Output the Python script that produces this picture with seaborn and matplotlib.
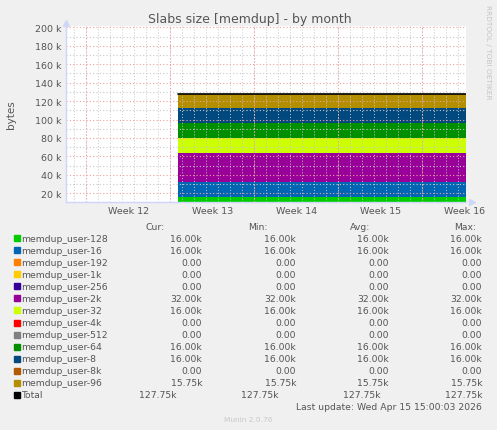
import numpy as np
import matplotlib
matplotlib.use('Agg')
import matplotlib.pyplot as plt
import seaborn as sns

# Series (stack order, bottom to top) and their values, in bytes
series = ['memdup_user-128', 'memdup_user-16', 'memdup_user-192', 'memdup_user-1k',
          'memdup_user-256', 'memdup_user-2k', 'memdup_user-32', 'memdup_user-4k',
          'memdup_user-512', 'memdup_user-64', 'memdup_user-8', 'memdup_user-8k',
          'memdup_user-96']
colors = ['#00cc00', '#0066b3', '#ff8000', '#ffcc00', '#330099', '#990099', '#ccff00',
          '#ff0000', '#808080', '#008f00', '#00487d', '#b35a00', '#b38f00']
values = [16000, 16000, 0, 0, 0, 32000, 16000, 0, 0, 16000, 16000, 0, 15750]

cur_txt = ['16.00k', '16.00k', '0.00', '0.00', '0.00', '32.00k', '16.00k', '0.00', '0.00',
           '16.00k', '16.00k', '0.00', '15.75k']
min_txt = cur_txt
avg_txt = cur_txt
max_txt = cur_txt
total_txt = '127.75k'

# time axis in days from the left edge of the graph
time = [9.36, 33.33]
week_pos = [5.2, 12.2, 19.2, 26.2, 33.2]
week_labels = ['Week 12', 'Week 13', 'Week 14', 'Week 15', 'Week 16']
week_grid = [1.7, 8.7, 15.7, 22.7, 29.7]
yticks = [20000, 40000, 60000, 80000, 100000, 120000, 140000, 160000, 180000, 200000]
ytick_labels = ['20 k', '40 k', '60 k', '80 k', '100 k', '120 k', '140 k', '160 k', '180 k', '200 k']

sns.set_style('white')
plt.rcParams['font.family'] = ['DejaVu Sans']

W, H = 497, 431
fig = plt.figure(figsize=(W / 100, H / 100), dpi=100, facecolor='#f0f0f0')
ax = fig.add_axes([66 / W, 1 - 203.3 / H, 400 / W, 176.8 / H])
ax.set_facecolor('white')

def px(x, y):
    return x / W, 1 - y / H

stack = np.array([[v, v] for v in values])
ax.stackplot(time, stack, colors=colors, linewidth=0, zorder=1)
total = stack.sum(axis=0)
sns.lineplot(x=time, y=total, color='black', linewidth=1.2, ax=ax, zorder=3)

ax.set_xlim(0, 33.33)
ax.set_ylim(10200, 202000)

# grid (drawn over the areas, rrdtool style)
dot = (0, (1, 2))
for d in np.arange(0.7, 33.4, 1.0):
    ax.axvline(d, color='#c8c8c8', lw=0.7, ls=dot, zorder=2)
for d in week_grid:
    ax.axvline(d, color='#f0a0a0', lw=0.8, ls=dot, zorder=2)
for v in range(20000, 210000, 10000):
    c = '#f0a0a0' if v % 20000 == 0 else '#c8c8c8'
    ax.axhline(v, color=c, lw=0.8, ls=dot, zorder=2)

ax.set_xticks(week_pos, week_labels)
ax.set_yticks(yticks, ytick_labels)
ax.tick_params(length=0, labelsize=6.8, colors='#555555', pad=3)
for s in ['top', 'right']:
    ax.spines[s].set_visible(False)
for s in ['left', 'bottom']:
    ax.spines[s].set_color('#cfd6f8')
    ax.spines[s].set_linewidth(1.0)
ax.plot([0], [1.015], marker='^', color='#cfd6f8', ms=5, transform=ax.transAxes, clip_on=False)
ax.plot([1.015], [0], marker='>', color='#cfd6f8', ms=5, transform=ax.transAxes, clip_on=False)

fig.text(*px(250, 19), 'Slabs size [memdup] - by month', ha='center', va='center',
         fontsize=9, color='#555555')
fig.text(*px(11, 115), 'bytes', ha='center', va='center', rotation=90,
         fontsize=7.5, color='#555555')
fig.text(*px(488, 5), 'RRDTOOL / TOBI OETIKER', ha='center', va='top', rotation=270,
         fontsize=5.3, color='#c4c4c4')

# legend table
fs = 6.7
tc = '#555555'
for x, h in [(145, 'Cur:'), (248, 'Min:'), (350, 'Avg:'), (454, 'Max:')]:
    fig.text(*px(x, 228), h, ha='left', va='center', fontsize=fs, color=tc)

cols = [(202, cur_txt), (296, min_txt), (389, avg_txt), (482, max_txt)]
for i, name in enumerate(series):
    y = 239.3 + 12.03 * i
    fig.patches.append(plt.Rectangle(px(14, y + 3), 6 / W, 6 / H, transform=fig.transFigure,
                                     color=colors[i], figure=fig))
    fig.text(*px(21, y), name, ha='left', va='center', fontsize=fs, color=tc)
    for x, col in cols:
        fig.text(*px(x, y), col[i], ha='right', va='center', fontsize=fs, color=tc)

y = 239.3 + 12.03 * len(series)
fig.patches.append(plt.Rectangle(px(14, y + 3), 6 / W, 6 / H, transform=fig.transFigure,
                                 color='black', figure=fig))
fig.text(*px(21, y), 'Total', ha='left', va='center', fontsize=fs, color=tc)
for x in [177, 279, 381, 482]:
    fig.text(*px(x, y), total_txt, ha='right', va='center', fontsize=fs, color=tc)

fig.text(*px(482, 407.7), 'Last update: Wed Apr 15 15:00:03 2026', ha='right', va='center',
         fontsize=fs, color=tc)
fig.text(*px(248, 420), 'Munin 2.0.76', ha='center', va='center', fontsize=5.3, color='#c8c8c8')

fig.savefig('out.png', dpi=100, facecolor=fig.get_facecolor())
